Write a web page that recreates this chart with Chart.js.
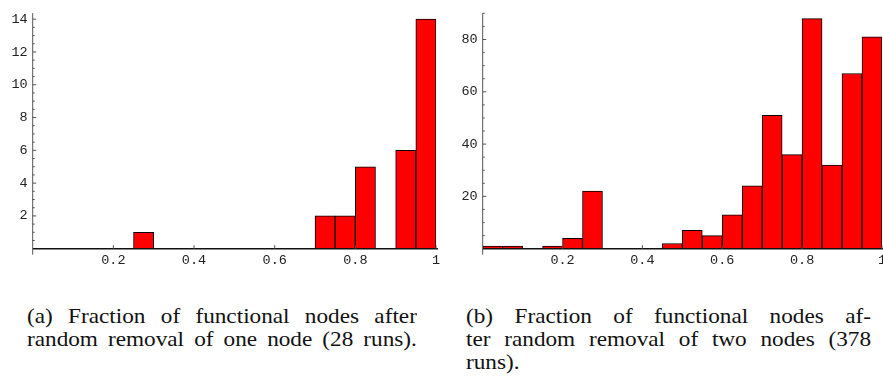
<!DOCTYPE html>
<html>
<head>
<meta charset="utf-8">
<script src="https://cdn.jsdelivr.net/npm/chart.js@4.4.1/dist/chart.umd.min.js"></script>
<style>
  html, body { margin: 0; padding: 0; width: 883px; height: 385px; overflow: hidden; background: #fff; }
  .wrap { position: absolute; overflow: hidden; }
  canvas { display: block; }
  .cap { position: absolute; font-family: "Liberation Serif", "Times New Roman", serif; font-size: 21.5px; line-height: 23px; color: #111; transform-origin: 0 0; transform: scaleX(1.08); }
  .j { text-align: justify; text-align-last: justify; }
  .l { text-align: left; }
</style>
</head>
<body>
<div class="wrap" style="left:0;top:0;width:450px;height:275px;"><canvas id="c1" width="445" height="270"></canvas></div>
<div class="wrap" style="left:450px;top:0;width:433px;height:275px;"><canvas id="c2" width="440" height="270"></canvas></div>

<div class="cap" style="left:27px;top:305px;width:361px;">
  <div class="j">(a) Fraction of functional nodes after</div>
  <div class="j">random removal of one node (28 runs).</div>
</div>
<div class="cap" style="left:466px;top:305px;width:375px;">
  <div class="j">(b) Fraction of functional nodes af-</div>
  <div class="j">ter random removal of two nodes (378</div>
  <div class="l">runs).</div>
</div>

<script>
// ---- data ----
const binCenters = [0.025, 0.075, 0.125, 0.175, 0.225, 0.275, 0.325, 0.375, 0.425, 0.475,
                    0.525, 0.575, 0.625, 0.675, 0.725, 0.775, 0.825, 0.875, 0.925, 0.975];
const oneNodeCounts = [0, 0, 0, 0, 0, 1, 0, 0, 0, 0,
                       0, 0, 0, 0, 2, 2, 5, 0, 6, 14];
const twoNodeCounts = [1, 1, 0, 1, 4, 22, 0, 0, 0, 2,
                       7, 5, 13, 24, 51, 36, 88, 32, 67, 81];
const xTickValues = [0.2, 0.4, 0.6, 0.8, 1];
const xTickLabels = ["0.2", "0.4", "0.6", "0.8", "1"];
const oneNodeYTicks = [2, 4, 6, 8, 10, 12, 14];
const twoNodeYTicks = [20, 40, 60, 80];
const oneNodeMinorStep = 0.5;
const twoNodeMinorStep = 5;
const oneNodeYMax = 14.37;
const twoNodeYMax = 90.1;

// ---- Mathematica-like axes drawn from the chart's scales ----
const mathAxes = {
  id: 'mathAxes',
  afterDatasetsDraw(chart, args, opts) {
    const { ctx, chartArea: ca, scales: { x, y } } = chart;
    const x0 = x.getPixelForValue(0);
    const y0 = y.getPixelForValue(0);
    const seg = (a, b, c, d) => { ctx.beginPath(); ctx.moveTo(a, b); ctx.lineTo(c, d); ctx.stroke(); };
    ctx.save();
    // x axis (baseline)
    ctx.strokeStyle = '#111';
    ctx.lineWidth = 1.4;
    seg(ca.left, y0, ca.right + 2, y0);
    // y axis
    ctx.strokeStyle = '#555';
    ctx.lineWidth = 1;
    seg(x0, ca.top, x0, y0 + 6);
    // y minor ticks
    const majors = y.ticks.map(t => t.value);
    for (let v = opts.minorStep; v <= y.max + 1e-9; v += opts.minorStep) {
      if (majors.some(m => Math.abs(m - v) < 1e-9)) continue;
      const py = y.getPixelForValue(v);
      seg(x0, py, x0 + 2, py);
    }
    // y major ticks
    majors.forEach(v => { const py = y.getPixelForValue(v); seg(x0, py, x0 + 3.5, py); });
    // x major ticks
    x.ticks.forEach(t => { const px = x.getPixelForValue(t.value); seg(px, y0, px, y0 - 3.5); });
    ctx.restore();
  }
};

function makeChart(id, counts, yTicks, yMax, minorStep, rightPad) {
  const data = binCenters.map((c, i) => ({ x: c, y: counts[i] }));
  return new Chart(document.getElementById(id), {
    type: 'bar',
    data: {
      datasets: [{
        data: data,
        backgroundColor: '#ff0000',
        borderColor: '#000000',
        borderWidth: 1,
        borderSkipped: false,
        barPercentage: 1,
        categoryPercentage: 1
      }]
    },
    options: {
      responsive: false,
      animation: false,
      events: [],
      layout: { padding: { left: 0, right: rightPad, top: 5, bottom: 0 } },
      plugins: { legend: { display: false }, tooltip: { enabled: false }, title: { display: false },
                 mathAxes: { minorStep: minorStep } },
      scales: {
        x: {
          type: 'linear', min: 0, max: 1, offset: false,
          grid: { display: false, drawTicks: false },
          border: { display: false },
          afterBuildTicks: s => { s.ticks = xTickValues.map(v => ({ value: v })); },
          afterFit: s => { s.height = 270 - 248.7; },
          ticks: {
            padding: 4,
            maxRotation: 0, autoSkip: false,
            color: '#222',
            font: { family: 'Liberation Mono', size: 13.5 },
            callback: (v) => { const i = xTickValues.findIndex(t => Math.abs(t - v) < 1e-9); return i >= 0 ? xTickLabels[i] : ''; }
          }
        },
        y: {
          min: 0, max: yMax,
          grid: { display: false, drawTicks: false },
          border: { display: false },
          afterBuildTicks: s => { s.ticks = yTicks.map(v => ({ value: v })); },
          afterFit: s => { s.width = 32.7; },
          ticks: {
            padding: 5,
            color: '#222',
            font: { family: 'Liberation Mono', size: 13.5 },
            callback: (v) => String(v)
          }
        }
      }
    },
    plugins: [mathAxes]
  });
}

makeChart('c1', oneNodeCounts, oneNodeYTicks, oneNodeYMax, oneNodeMinorStep, 9);
makeChart('c2', twoNodeCounts, twoNodeYTicks, twoNodeYMax, twoNodeMinorStep, 4);
</script>
</body>
</html>
